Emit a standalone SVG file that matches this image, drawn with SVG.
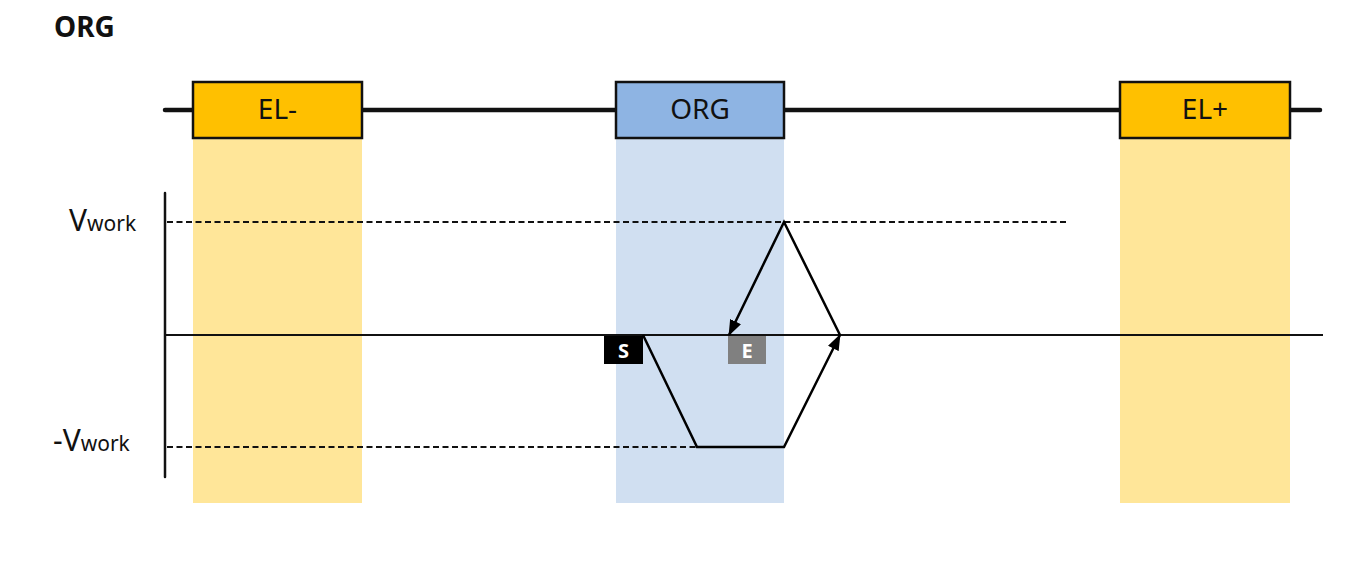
<svg xmlns="http://www.w3.org/2000/svg" width="1368" height="586" viewBox="0 0 1368 586">
<style>
.lbl{font-family:"Noto Sans","Open Sans","DejaVu Sans",sans-serif;fill:#111;}
.box{stroke:#111;stroke-width:2.5;}
.dash{stroke:#111;stroke-width:2.2;stroke-dasharray:6 3.5;fill:none;}
.wave{stroke:#000;stroke-width:2.5;fill:none;stroke-linejoin:miter;}
</style>
<defs>
<marker id="ah" viewBox="0 0 16 12" refX="15" refY="6" markerWidth="16" markerHeight="12" markerUnits="userSpaceOnUse" orient="auto">
<path d="M0,0 L16,6 L0,12 z" fill="#000"/>
</marker>
</defs>
<rect width="1368" height="586" fill="#fff"/>
<text x="54" y="37" class="lbl" font-size="28" font-weight="bold">ORG</text>
<g id="bands">
<rect x="193" y="138" width="169" height="365" fill="#FFE699"/>
<rect x="616" y="138" width="168" height="365" fill="#D0DFF1"/>
<rect x="1120" y="138" width="170" height="365" fill="#FFE699"/>
</g>
<g id="connectors">
<line x1="165" y1="110" x2="1320" y2="110" stroke="#111" stroke-width="4.5" stroke-linecap="round"/>
<line x1="165" y1="193" x2="165" y2="477" stroke="#111" stroke-width="2.5" stroke-linecap="round"/>
<line x1="165" y1="335" x2="1323" y2="335" stroke="#111" stroke-width="2"/>
<line x1="167" y1="222" x2="1068" y2="222" class="dash"/>
<line x1="167" y1="447" x2="697" y2="447" class="dash"/>
<path d="M643,335 L697,447 L784,447 L840,335" class="wave" marker-end="url(#ah)"/>
<path d="M840,335 L784,222 L729,335" class="wave" marker-end="url(#ah)"/>
</g>
<g id="el-minus">
<rect x="193" y="82" width="169" height="56" fill="#FFC000" class="box"/>
<text x="277.5" y="119" class="lbl" font-size="28" text-anchor="middle">EL-</text>
</g>
<g id="org">
<rect x="616" y="82" width="168" height="56" fill="#8EB4E3" class="box"/>
<text x="700" y="119" class="lbl" font-size="28" text-anchor="middle">ORG</text>
</g>
<g id="el-plus">
<rect x="1120" y="82" width="170" height="56" fill="#FFC000" class="box"/>
<text x="1205" y="119" class="lbl" font-size="28" text-anchor="middle">EL+</text>
</g>
<g id="vwork">
<text x="69" y="231" class="lbl"><tspan font-size="30">V</tspan><tspan font-size="21">work</tspan></text>
</g>
<g id="neg-vwork">
<text x="53" y="451" class="lbl"><tspan font-size="30">-V</tspan><tspan font-size="21">work</tspan></text>
</g>
<g id="start">
<rect x="604" y="336" width="39" height="28" fill="#000"/>
<text x="623.5" y="358" class="lbl" font-size="20" font-weight="bold" style="fill:#fff" text-anchor="middle">S</text>
</g>
<g id="end">
<rect x="728" y="336" width="38" height="28" fill="#808080"/>
<text x="747" y="358" class="lbl" font-size="20" font-weight="bold" style="fill:#fff" text-anchor="middle">E</text>
</g>
</svg>
